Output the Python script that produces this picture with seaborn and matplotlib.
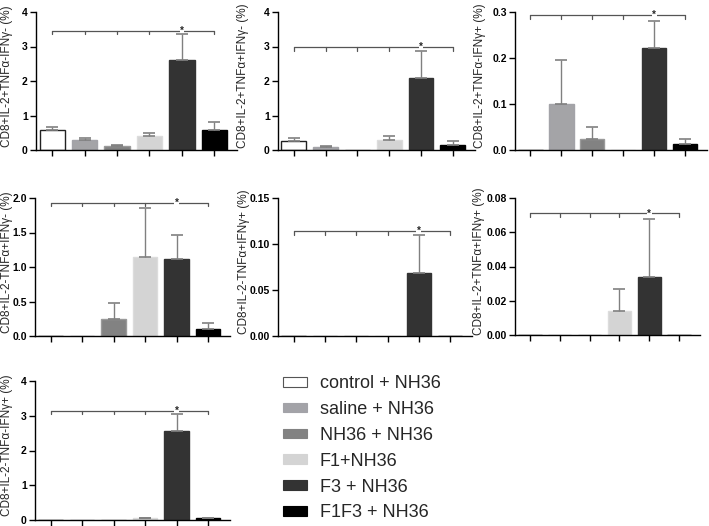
import numpy as np
import pandas as pd
import matplotlib
matplotlib.use("Agg")
import matplotlib.pyplot as plt
import seaborn as sns
from matplotlib.patches import Patch

# -----------------------------
# DATA
# -----------------------------
groups = ["control + NH36", "saline + NH36", "NH36 + NH36", "F1+NH36", "F3 + NH36", "F1F3 + NH36"]
colors = ["#ffffff", "#a3a3a8", "#828282", "#d4d4d4", "#333333", "#000000"]
edges = ["#222222", "#a3a3a8", "#9a9a9a", "#dcdcdc", "#333333", "#000000"]

labels = [
    "CD8+IL-2+TNFα-IFNγ- (%)",
    "CD8+IL-2+TNFα+IFNγ- (%)",
    "CD8+IL-2+TNFα-IFNγ+ (%)",
    "CD8+IL-2-TNFα+IFNγ- (%)",
    "CD8+IL-2-TNFα+IFNγ+ (%)",
    "CD8+IL-2+TNFα+IFNγ+ (%)",
    "CD8+IL-2-TNFα-IFNγ+ (%)",
]

means = [
    [0.57, 0.28, 0.12, 0.40, 2.62, 0.58],
    [0.27, 0.09, 0.0, 0.30, 2.10, 0.14],
    [0.0, 0.099, 0.025, 0.0, 0.221, 0.013],
    [0.0, 0.0, 0.25, 1.15, 1.12, 0.10],
    [0.0, 0.0, 0.0, 0.0, 0.068, 0.0],
    [0.0, 0.0, 0.0, 0.014, 0.034, 0.0],
    [0.0, 0.0, 0.0, 0.05, 2.55, 0.05],
]
sems = [
    [0.10, 0.07, 0.02, 0.10, 0.75, 0.22],
    [0.09, 0.03, 0.0, 0.11, 0.78, 0.11],
    [0.0, 0.097, 0.024, 0.0, 0.059, 0.010],
    [0.0, 0.0, 0.23, 0.70, 0.35, 0.09],
    [0.0, 0.0, 0.0, 0.0, 0.042, 0.0],
    [0.0, 0.0, 0.0, 0.013, 0.034, 0.0],
    [0.0, 0.0, 0.0, 0.01, 0.50, 0.01],
]
bracket_y = [3.45, 2.98, 0.293, 1.93, 0.114, 0.071, 3.15]
yticks = [
    [0, 1, 2, 3, 4],
    [0, 1, 2, 3, 4],
    [0.0, 0.1, 0.2, 0.3],
    [0.0, 0.5, 1.0, 1.5, 2.0],
    [0.00, 0.05, 0.10, 0.15],
    [0.00, 0.02, 0.04, 0.06, 0.08],
    [0, 1, 2, 3, 4],
]
tick_fmt = ["%d", "%d", "%.1f", "%.1f", "%.2f", "%.2f", "%d"]

# axes boxes in pixels: left, top, right, bottom
W, H = 709, 526
boxes = [
    (36, 12, 237, 150), (278, 12, 475, 150), (515, 12, 707, 150),
    (35, 198, 230, 336), (278, 198, 472, 336), (515, 198, 700, 335),
    (35, 381, 230, 520),
]
label_off = [-23, -29, -29, -22, -28, -30, -22]  # px from axes left

sns.set_style("ticks")
plt.rcParams["font.family"] = ["Liberation Sans", "DejaVu Sans"]

fig = plt.figure(figsize=(W / 100, H / 100), dpi=100)

for i in range(7):
    l, t, r, b = boxes[i]
    ax = fig.add_axes([l / W, 1 - b / H, (r - l) / W, (b - t) / H])
    df = pd.DataFrame({"group": groups, "value": means[i]})
    sns.barplot(data=df, x="group", y="value", hue="group", order=groups,
                hue_order=groups, palette=colors, legend=False, width=0.78,
                linewidth=1, ax=ax)
    for p, ec in zip(ax.patches, edges):
        p.set_edgecolor(ec)

    x = np.arange(len(groups))
    m = np.array(means[i])
    s = np.array(sems[i])
    mask = s > 0
    ax.errorbar(x[mask], m[mask], yerr=[np.zeros(mask.sum()), s[mask]],
                fmt="none", ecolor="#808080", elinewidth=1, capsize=4.5,
                capthick=1.2, zorder=6)

    # significance bracket
    top = yticks[i][-1]
    by = bracket_y[i]
    tick_len = top * 0.025
    ax.plot([x[0], x[-1]], [by, by], color="#555555", lw=0.9, zorder=4)
    for xi in x:
        ax.plot([xi, xi], [by, by - tick_len], color="#555555", lw=0.9, zorder=4)
    ax.text(x[4], by, "*", ha="center", va="center", fontsize=7,
            fontweight="bold", zorder=5,
            bbox=dict(facecolor="white", edgecolor="none", pad=0.3))

    ax.set_xlim(-0.5, 5.7)
    ax.set_ylim(0, top)
    ax.set_yticks(yticks[i])
    ax.set_yticklabels([tick_fmt[i] % v for v in yticks[i]],
                       fontsize=7.5, fontweight="bold")
    ax.set_xticks(x)
    ax.set_xticklabels([])
    ax.set_xlabel("")
    ax.set_ylabel(labels[i], fontsize=8.5)
    ax.yaxis.set_label_coords(label_off[i] / (r - l), 0.5 + 5 / (b - t))
    ax.tick_params(axis="both", direction="out", length=4, width=1, colors="black", pad=2)
    sns.despine(ax=ax)
    for sp in ["left", "bottom"]:
        ax.spines[sp].set_linewidth(1)
        ax.spines[sp].set_color("black")

handles = [Patch(facecolor=c, edgecolor=("#555555" if c == "#ffffff" else c), linewidth=0.8)
           for c in colors]
fig.legend(handles, groups, loc="upper left", bbox_to_anchor=(276 / W, 1 - 368 / H),
           frameon=False, fontsize=13, handlelength=1.33, handleheight=0.45,
           handletextpad=0.7, labelspacing=0.49, borderaxespad=0)

fig.savefig("out.png", dpi=100)
